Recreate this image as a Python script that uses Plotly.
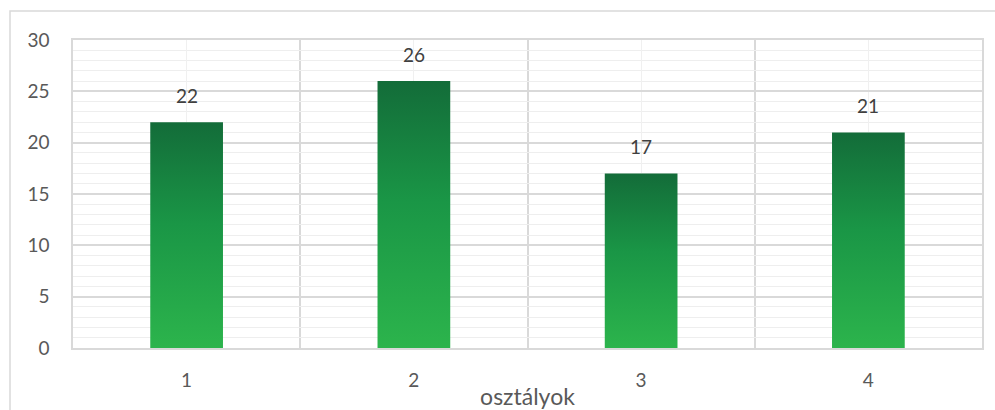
import plotly.graph_objects as go

# Number of students per class
classes = [1, 2, 3, 4]
counts = [22, 26, 17, 21]
y_ticks = [0, 5, 10, 15, 20, 25, 30]

BAR_HALF = 0.16
TOP_GREEN = "#136c39"
BOTTOM_GREEN = "#2cb44c"
FONT = "Lato, 'Open Sans', sans-serif"

fig = go.Figure()

# Each bar is a filled rectangle with a vertical green gradient
for c, v in zip(classes, counts):
    fig.add_trace(go.Scatter(
        x=[c - BAR_HALF, c - BAR_HALF, c + BAR_HALF, c + BAR_HALF, c - BAR_HALF],
        y=[0, v, v, 0, 0],
        mode="lines",
        line=dict(width=0),
        fill="toself",
        fillgradient=dict(
            type="vertical",
            colorscale=[[0, BOTTOM_GREEN], [0.55, "#1a9646"], [1, TOP_GREEN]],
        ),
        hoverinfo="skip",
        showlegend=False,
    ))

# Value labels above the bars
annotations = [
    dict(x=c, y=v, xref="x", yref="y", text=str(v), showarrow=False,
         yanchor="bottom", yshift=13,
         font=dict(family=FONT, size=19, color="#404040"))
    for c, v in zip(classes, counts)
]

fig.update_layout(
    width=995,
    height=410,
    margin=dict(l=73, r=13, t=40, b=62),
    paper_bgcolor="white",
    plot_bgcolor="white",
    font=dict(family=FONT, color="#595959"),
    annotations=annotations,
    shapes=[
        dict(type="rect", xref="paper", yref="paper",
             x0=-63 / 909, x1=1.2, y0=-1.0, y1=1 + 29 / 308,
             line=dict(color="#d9d9d9", width=1.5), fillcolor="rgba(0,0,0,0)",
             layer="below"),
    ],
)

fig.update_xaxes(
    range=[0.5, 4.5],
    tickvals=classes,
    ticktext=[str(c) for c in classes],
    tickfont=dict(size=19, color="#595959"),
    ticks="",
    ticklabelstandoff=14,
    showgrid=True,
    gridcolor="#f0f0f0",
    gridwidth=1,
    minor=dict(tick0=0.5, dtick=1, showgrid=True, gridcolor="#d9d9d9", gridwidth=1.5),
    showline=True,
    linecolor="#d9d9d9",
    linewidth=1.5,
    mirror=True,
    zeroline=False,
    title=dict(text="osztályok", font=dict(size=23, color="#595959"), standoff=0),
    automargin=False,
    fixedrange=True,
)

fig.update_yaxes(
    range=[0, 30],
    tickvals=y_ticks,
    tickfont=dict(size=19, color="#595959"),
    ticks="",
    ticklabelstandoff=18,
    showgrid=True,
    gridcolor="#d9d9d9",
    gridwidth=1.5,
    minor=dict(dtick=1, showgrid=True, gridcolor="#eeeeee", gridwidth=1),
    showline=True,
    linecolor="#d9d9d9",
    linewidth=1.5,
    mirror=True,
    zeroline=False,
    automargin=False,
    fixedrange=True,
)

fig.write_html("out.html")
